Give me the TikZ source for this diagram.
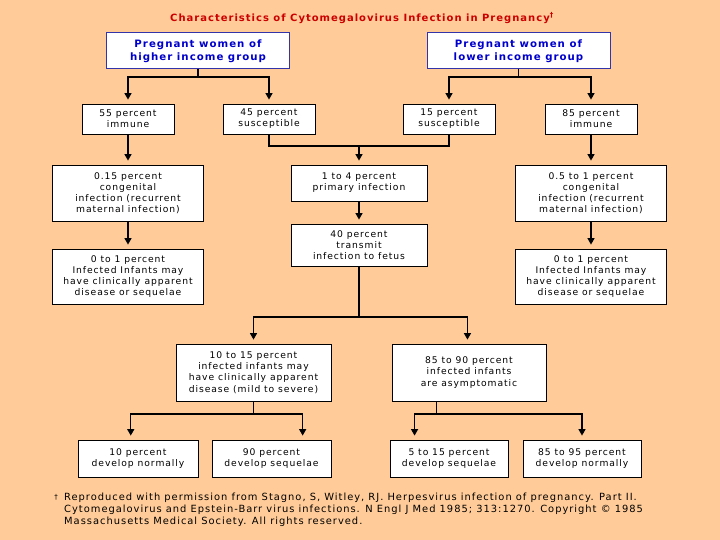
\documentclass[tikz,border=0pt]{standalone}
\usepackage{fontspec}
\setmainfont{DejaVu Sans}[LetterSpace=10]
\usetikzlibrary{arrows.meta,calc}
\definecolor{bg}{HTML}{FFCC99}
\definecolor{ttl}{HTML}{CC0000}
\definecolor{blu}{HTML}{0000CC}
\definecolor{bord}{HTML}{3333AA}
\begin{document}
\begin{tikzpicture}[x=1pt,y=-1pt,
  box/.style={draw=black,line width=0.8pt,fill=white,inner sep=0pt,align=center,
    font=\fontsize{9.2}{11.2}\selectfont},
  topbox/.style={draw=bord,line width=1pt,fill=white,inner sep=0pt,align=center,
    text=blu,font=\fontsize{10.2}{12.5}\selectfont\bfseries,minimum width=183pt,minimum height=36pt},
  conn/.style={line width=1.4pt},
  arr/.style={conn,-{Triangle[width=7pt,length=6.5pt]},shorten >=4pt}]
\fill[bg] (0,0) rectangle (720,540);
\useasboundingbox (0,0) rectangle (720,540);

\node[text=ttl,font=\fontsize{10}{12}\selectfont\bfseries] (title) at (362,18)
  {Characteristics of Cytomegalovirus Infection in Pregnancy\textsuperscript{†}};

\node[topbox] (hi) at (198,51) {Pregnant women of\\higher income group};
\node[topbox] (lo) at (518.5,51) {Pregnant women of\\lower income group};

\node[box,minimum width=92pt,minimum height=30pt] (imm1) at (128,119) {55 percent\\immune};
\node[box,minimum width=92pt,minimum height=30pt] (sus1) at (269,119) {45 percent\\susceptible};
\node[box,minimum width=92pt,minimum height=30pt] (sus2) at (449,119) {15 percent\\susceptible};
\node[box,minimum width=92pt,minimum height=30pt] (imm2) at (591,119) {85 percent\\immune};

\node[box,minimum width=151pt,minimum height=56pt] (cong1) at (128,193)
  {0.15 percent\\congenital\\infection (recurrent\\maternal infection)};
\node[box,minimum width=136pt,minimum height=36pt] (prim) at (359,183)
  {1 to 4 percent\\primary infection};
\node[box,minimum width=151pt,minimum height=56pt] (cong2) at (591,193)
  {0.5 to 1 percent\\congenital\\infection (recurrent\\maternal infection)};

\node[box,minimum width=151pt,minimum height=55pt] (app1) at (128,276.5)
  {0 to 1 percent\\Infected Infants may\\have clinically apparent\\disease or sequelae};
\node[box,minimum width=136pt,minimum height=42pt] (trans) at (359,245)
  {40 percent\\transmit\\infection to fetus};
\node[box,minimum width=151pt,minimum height=55pt] (app2) at (591,276.5)
  {0 to 1 percent\\Infected Infants may\\have clinically apparent\\disease or sequelae};

\node[box,minimum width=155pt,minimum height=57pt] (sev) at (253.5,372.5)
  {10 to 15 percent\\infected infants may\\have clinically apparent\\disease (mild to severe)};
\node[box,minimum width=154pt,minimum height=57pt] (asym) at (469,372.5)
  {85 to 90 percent\\infected infants\\are asymptomatic};

\node[box,minimum width=120pt,minimum height=37pt] (b1) at (138,458.5) {10 percent\\develop normally};
\node[box,minimum width=119pt,minimum height=37pt] (b2) at (271.5,458.5) {90 percent\\develop sequelae};
\node[box,minimum width=118pt,minimum height=37pt] (b3) at (449,458.5) {5 to 15 percent\\develop sequelae};
\node[box,minimum width=118pt,minimum height=37pt] (b4) at (582,458.5) {85 to 95 percent\\develop normally};

% connectors
\coordinate (j1) at (198,77);
\draw[conn] (hi.south) -- (j1);
\draw[arr] (j1) -| (imm1.north);
\draw[arr] (j1) -| (sus1.north);

\coordinate (j2) at (518.5,77);
\draw[conn] (lo.south) -- (j2);
\draw[arr] (j2) -| (sus2.north);
\draw[arr] (j2) -| (imm2.north);

\coordinate (jm) at (359,146);
\draw[conn] (sus1.south) |- (jm);
\draw[conn] (sus2.south) |- (jm);
\draw[arr] (jm) -- (prim.north);

\draw[arr] (imm1.south) -- (cong1.north);
\draw[arr] (cong1.south) -- (app1.north);
\draw[arr] (imm2.south) -- (cong2.north);
\draw[arr] (cong2.south) -- (app2.north);
\draw[arr] (prim.south) -- (trans.north);

\coordinate (j3) at (359,317);
\draw[conn] (trans.south) -- (j3);
\draw[arr] (j3) -| (sev.north);
\draw[arr] (j3) -| ($(asym.north west)!.49!(asym.north east)$);

\coordinate (j4) at (253.5,414);
\draw[conn] (sev.south) -- (j4);
\draw[arr] (j4) -| ($(b1.north west)!.44!(b1.north east)$);
\draw[arr] (j4) -| ($(b2.north west)!.76!(b2.north east)$);

\coordinate (a5) at ($(asym.south west)!.29!(asym.south east)$);
\coordinate (j5) at (a5 |- j4);
\draw[conn] (a5) -- (j5);
\draw[arr] (j5) -| ($(b3.north west)!.21!(b3.north east)$);
\draw[arr] (j5) -| (b4.north);

% footnote
\node[font=\fontsize{7}{8}\selectfont] (dag) at (56,497) {†};
\node[anchor=north west,align=left,inner sep=0pt,font=\fontsize{9.9}{12}\selectfont] (fn) at (64,493)
  {Reproduced with permission from Stagno, S, Witley, RJ. Herpesvirus infection of pregnancy. Part II.\\
   Cytomegalovirus and Epstein-Barr virus infections. N Engl J Med 1985; 313:1270. Copyright © 1985\\
   Massachusetts Medical Society. All rights reserved.};
\end{tikzpicture}
\end{document}
